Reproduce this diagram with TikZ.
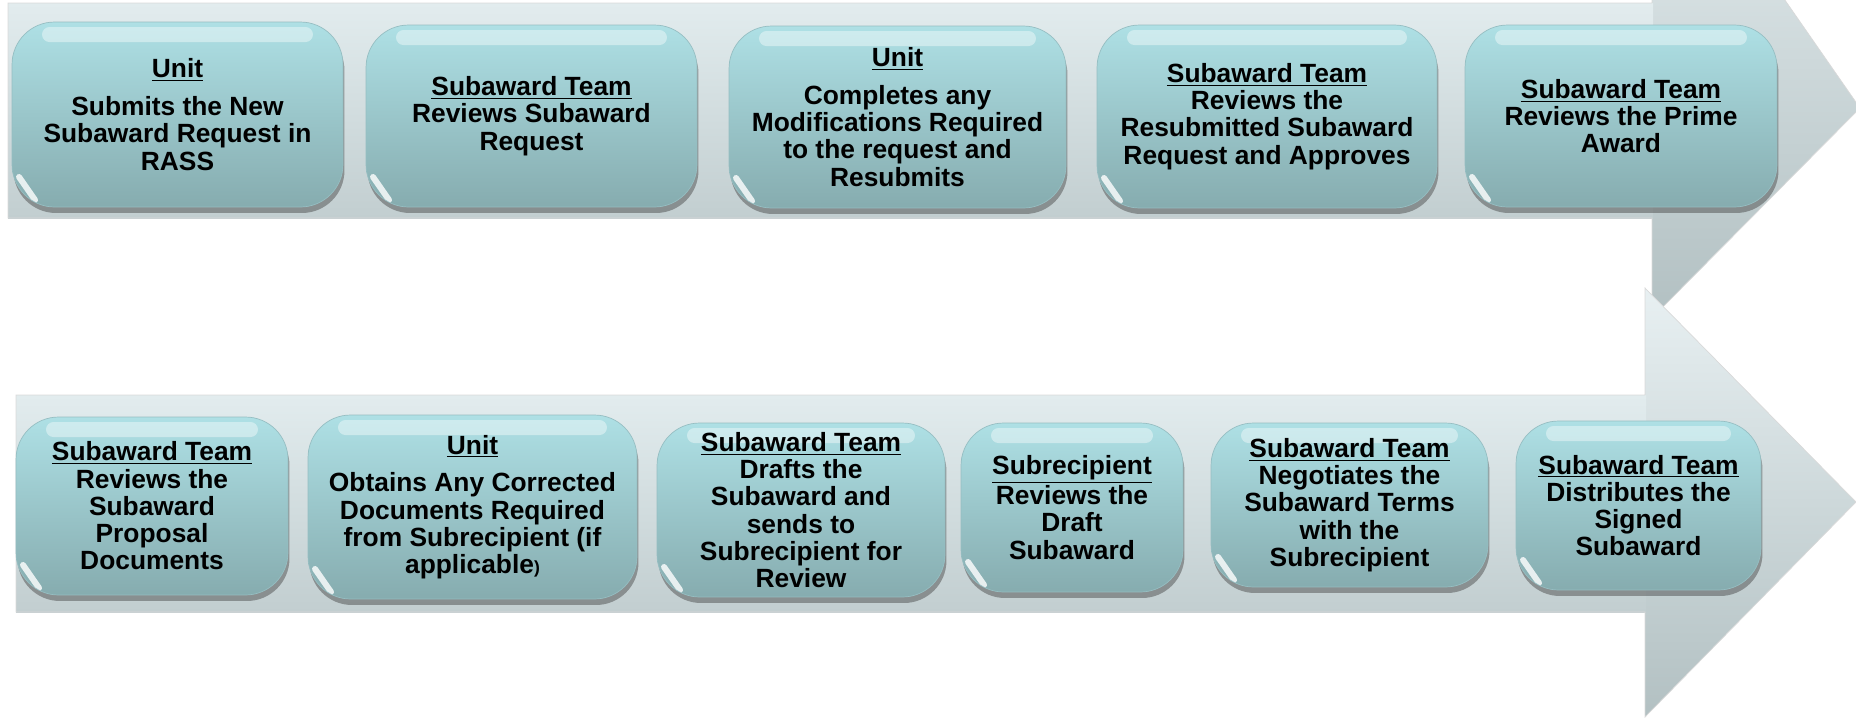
\documentclass[tikz,border=0pt]{standalone}
\usepackage{fontspec}
\setmainfont{Liberation Sans}
\usetikzlibrary{shadows}

\definecolor{boxtop}{RGB}{174,224,229}
\definecolor{boxbot}{RGB}{134,172,175}
\definecolor{boxline}{RGB}{150,190,194}
\definecolor{bodytop}{RGB}{226,236,238}
\definecolor{bodybot}{RGB}{194,206,208}
\definecolor{headtop}{RGB}{232,240,242}
\definecolor{headbot}{RGB}{178,192,194}

\tikzset{
  stepbox/.style={shape=rectangle, rounded corners=0.85cm, inner sep=0pt, align=center,
    top color=boxtop, bottom color=boxbot, draw=boxline, thin,
    font=\fontsize{15}{15.5}\selectfont\bfseries,
    drop shadow={shadow xshift=0.03cm, shadow yshift=-0.12cm, opacity=0.45, fill=black!75},
    path picture={
      \fill[white, opacity=0.4, rounded corners=0.15cm]
        ([xshift=0.6cm, yshift=-0.1cm]path picture bounding box.north west) rectangle
        ([xshift=-0.6cm, yshift=-0.4cm]path picture bounding box.north east);
      \draw[white, opacity=0.8, line width=0.12cm, line cap=round]
        ([xshift=0.14cm, yshift=0.6cm]path picture bounding box.south west) --
        ([xshift=0.46cm, yshift=0.14cm]path picture bounding box.south west);
    }},
  arrowline/.style={draw=gray!30, thin}
}

\begin{document}
\begin{tikzpicture}[x=0.02cm, y=-0.02cm]

	\useasboundingbox (0,0) rectangle (1856,718);
	\clip (0,0) rectangle (1856,718);

	% upper arrow
	\shade[top color=headtop, bottom color=headbot] (1652,-191) -- (1860,108) -- (1652,318) -- cycle;
	\shade[top color=bodytop, bottom color=bodybot] (8,3) rectangle (1653,218);
	\path[arrowline] (8,3) -- (1652,3) -- (1652,-191) -- (1860,108) -- (1652,318) -- (1652,218) -- (8,218) -- cycle;

	% lower arrow
	\shade[top color=headtop, bottom color=headbot] (1645,288) -- (1856,502) -- (1645,717) -- cycle;
	\shade[top color=bodytop, bottom color=bodybot] (16,395) rectangle (1646,612);
	\path[arrowline] (16,395) -- (1645,395) -- (1645,288) -- (1856,502) -- (1645,717) -- (1645,612) -- (16,612) -- cycle;

	\node[stepbox, minimum width=6.62cm, minimum height=3.70cm] (t1) at (177.5,114.5)
		{\underline{Unit}\\[6pt]Submits the New\\Subaward Request in\\RASS};
	\node[stepbox, minimum width=6.62cm, minimum height=3.64cm] (t2) at (531.5,116)
		{\underline{Subaward Team}\\Reviews Subaward\\Request};
	\node[stepbox, minimum width=6.74cm, minimum height=3.64cm] (t3) at (897.5,117)
		{\underline{Unit}\\[6pt]Completes any\\Modifications Required\\to the request and\\Resubmits};
	\node[stepbox, minimum width=6.80cm, minimum height=3.66cm] (t4) at (1267,116.5)
		{\underline{Subaward Team}\\Reviews the\\Resubmitted Subaward\\Request and Approves};
	\node[stepbox, minimum width=6.24cm, minimum height=3.64cm] (t5) at (1621,116)
		{\underline{Subaward Team}\\Reviews the Prime\\Award};

	\node[stepbox, minimum width=5.44cm, minimum height=3.56cm] (b1) at (152,506)
		{\underline{Subaward Team}\\Reviews the\\Subaward\\Proposal\\Documents};
	\node[stepbox, minimum width=6.58cm, minimum height=3.68cm] (b2) at (472.5,507)
		{\underline{Unit}\\[6pt]Obtains Any Corrected\\Documents Required\\from Subrecipient (if\\applicable{\fontsize{10}{10}\selectfont)}};
	\node[stepbox, minimum width=5.76cm, minimum height=3.48cm] (b3) at (801,510)
		{\underline{Subaward Team}\\Drafts the\\Subaward and\\sends to\\Subrecipient for\\Review};
	\node[stepbox, minimum width=4.44cm, minimum height=3.38cm] (b4) at (1072,507.5)
		{\underline{Subrecipient}\\Reviews the\\Draft\\Subaward};
	\node[stepbox, minimum width=5.54cm, minimum height=3.28cm] (b5) at (1349.5,505)
		{\underline{Subaward Team}\\Negotiates the\\Subaward Terms\\with the\\Subrecipient};
	\node[stepbox, minimum width=4.90cm, minimum height=3.38cm] (b6) at (1638.5,505.5)
		{\underline{Subaward Team}\\Distributes the\\Signed\\Subaward};

\end{tikzpicture}
\end{document}
